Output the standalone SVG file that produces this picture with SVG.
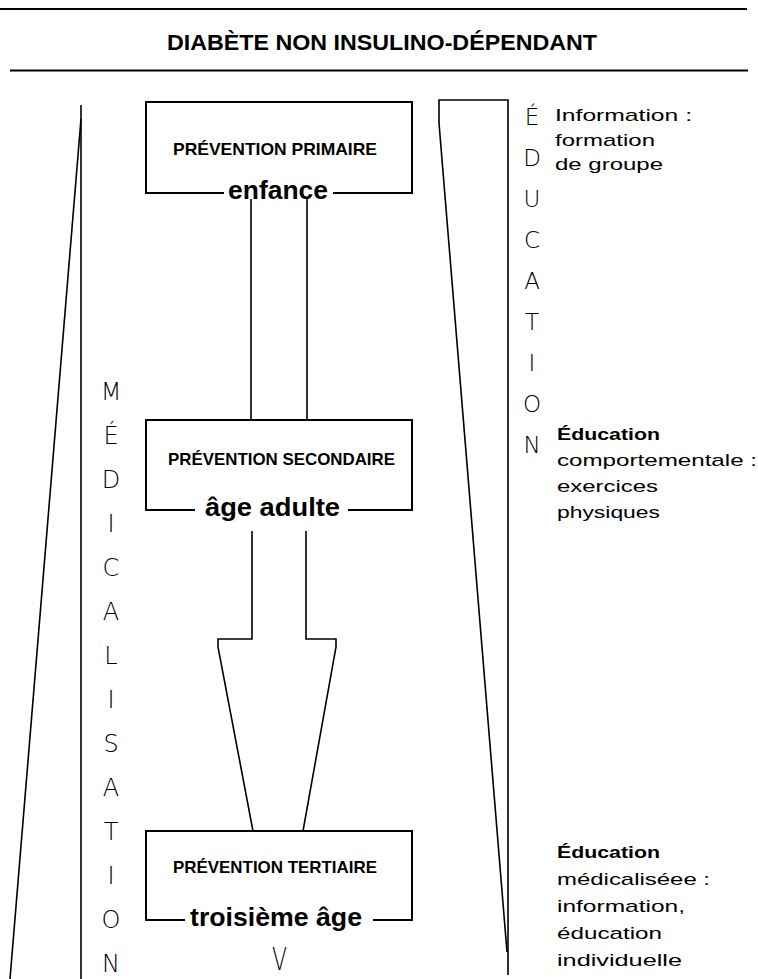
<svg xmlns="http://www.w3.org/2000/svg" width="758" height="979" viewBox="0 0 758 979">
<style>
.ln{fill:none;stroke:#000;stroke-width:2;stroke-linejoin:miter}
.thin{fill:none;stroke:#000;stroke-width:1.6}
.ttl{font-family:"Liberation Sans",Arial,sans-serif;font-weight:bold;text-anchor:middle;fill:#000}
.bt{font-family:"Liberation Sans",Arial,sans-serif;font-weight:bold;font-size:17px;text-anchor:middle;fill:#000}
.age{font-family:"Liberation Sans",Arial,sans-serif;font-weight:bold;font-size:26px;text-anchor:middle;fill:#000}
.vl{font-family:"DejaVu Sans","Liberation Sans",sans-serif;font-weight:200;text-anchor:middle;fill:#000}
.nt{font-family:"Liberation Sans",Arial,sans-serif;font-size:17px;fill:#000}
.ntb{font-family:"Liberation Sans",Arial,sans-serif;font-size:17px;font-weight:bold;fill:#000}
</style>
<rect width="758" height="979" fill="#fff"/>
<g id="header">
<line x1="0" y1="9" x2="747" y2="9" class="ln"/>
<text class="ttl" x="382" y="50" font-size="22" textLength="430" lengthAdjust="spacingAndGlyphs">DIABÈTE NON INSULINO-DÉPENDANT</text>
<line x1="10" y1="70.5" x2="748" y2="70.5" class="ln" stroke-width="2.5"/>
</g>
<g id="medicalisation">
<line x1="81" y1="105" x2="81" y2="979" class="thin"/>
<line x1="81" y1="119" x2="10" y2="979" class="thin"/>
<g class="vl" font-size="24">
<text x="111" y="400">M</text>
<text x="111" y="444">É</text>
<text x="111" y="488">D</text>
<text x="111" y="532">I</text>
<text x="111" y="576">C</text>
<text x="111" y="620">A</text>
<text x="111" y="664">L</text>
<text x="111" y="708">I</text>
<text x="111" y="752">S</text>
<text x="111" y="796">A</text>
<text x="111" y="840">T</text>
<text x="111" y="884">I</text>
<text x="111" y="928">O</text>
<text x="111" y="972">N</text>
</g>
</g>
<g id="education">
<path d="M439,123 V100 H508 V975" class="thin"/>
<line x1="439" y1="123" x2="507" y2="952" class="thin"/>
<g class="vl" font-size="23">
<text x="532" y="125">É</text>
<text x="532" y="166">D</text>
<text x="532" y="207">U</text>
<text x="532" y="248">C</text>
<text x="532" y="289">A</text>
<text x="532" y="330">T</text>
<text x="532" y="371">I</text>
<text x="532" y="412">O</text>
<text x="532" y="453">N</text>
</g>
</g>
<g id="connectors">
<line x1="251" y1="199" x2="251" y2="420" class="thin"/>
<line x1="307" y1="199" x2="307" y2="420" class="thin"/>
<path d="M252,531 V639 H218 V647 L253,831" class="thin"/>
<path d="M306,531 V639 H336 V647 L303,831" class="thin"/>
</g>
<g id="node-primaire">
<path d="M224,193 H146 V102 H412 V193 H333" class="ln"/>
<text class="bt" x="275" y="155" textLength="204" lengthAdjust="spacingAndGlyphs">PRÉVENTION PRIMAIRE</text>
<text class="age" x="278" y="199" textLength="100" lengthAdjust="spacingAndGlyphs">enfance</text>
</g>
<g id="node-secondaire">
<path d="M195,510 H146 V420 H412 V510 H348" class="ln"/>
<text class="bt" x="281.5" y="465" textLength="227" lengthAdjust="spacingAndGlyphs">PRÉVENTION SECONDAIRE</text>
<text class="age" x="272.5" y="516" textLength="135" lengthAdjust="spacingAndGlyphs">âge adulte</text>
</g>
<g id="node-tertiaire">
<path d="M185,920 H146 V831 H412 V920 H373" class="ln"/>
<text class="bt" x="275" y="873" textLength="204" lengthAdjust="spacingAndGlyphs">PRÉVENTION TERTIAIRE</text>
<text class="age" x="276" y="926" textLength="172" lengthAdjust="spacingAndGlyphs">troisième âge</text>
<text class="vl" x="279.5" y="970" font-size="32" textLength="15" lengthAdjust="spacingAndGlyphs">V</text>
</g>
<g id="notes">
<text class="nt" x="555" y="121" textLength="137" lengthAdjust="spacingAndGlyphs">Information :</text>
<text class="nt" x="555" y="146" textLength="100" lengthAdjust="spacingAndGlyphs">formation</text>
<text class="nt" x="555" y="170" textLength="108" lengthAdjust="spacingAndGlyphs">de groupe</text>
<text class="ntb" x="557" y="440" textLength="103" lengthAdjust="spacingAndGlyphs">Éducation</text>
<text class="nt" x="557" y="466" textLength="200" lengthAdjust="spacingAndGlyphs">comportementale :</text>
<text class="nt" x="557" y="492" textLength="101" lengthAdjust="spacingAndGlyphs">exercices</text>
<text class="nt" x="557" y="518" textLength="103" lengthAdjust="spacingAndGlyphs">physiques</text>
<text class="ntb" x="557" y="858" textLength="103" lengthAdjust="spacingAndGlyphs">Éducation</text>
<text class="nt" x="557" y="885" textLength="153" lengthAdjust="spacingAndGlyphs">médicaliséee :</text>
<text class="nt" x="557" y="912" textLength="128" lengthAdjust="spacingAndGlyphs">information,</text>
<text class="nt" x="557" y="939" textLength="105" lengthAdjust="spacingAndGlyphs">éducation</text>
<text class="nt" x="557" y="966" textLength="125" lengthAdjust="spacingAndGlyphs">individuelle</text>
</g>
</svg>
